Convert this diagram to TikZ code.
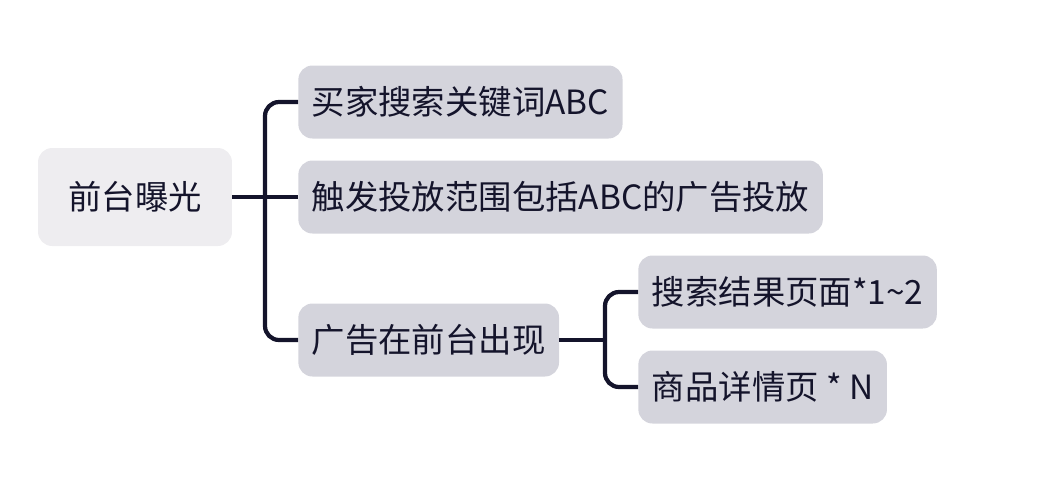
\documentclass[tikz,border=0pt]{standalone}
\usepackage{fontspec}
\newfontfamily\cjk{Noto Sans CJK SC}
\usetikzlibrary{positioning}
\definecolor{rootfill}{HTML}{EEEDF0}
\definecolor{topicfill}{HTML}{D4D4DC}
\definecolor{linecol}{HTML}{14142B}
\tikzset{every node/.style={font=\cjk\fontsize{19}{22}\selectfont, text=linecol},
  rootbox/.style={fill=rootfill, rounded corners=8pt, minimum width=3.88cm, minimum height=1.96cm},
  topicbox/.style={fill=topicfill, rounded corners=8pt, minimum height=1.46cm, inner xsep=0.27cm, anchor=west},
  conn/.style={draw=linecol, line width=2.4pt, rounded corners=8pt}}

\begin{document}
\begin{tikzpicture}[x=0.02cm,y=-0.02cm]
  \useasboundingbox (0,0) rectangle (1048,495);
  \node[rootbox] (root) at (135,197) {前台曝光};
  \node[topicbox] (kw) at (298,102) {买家搜索关键词ABC};
  \node[topicbox] (hit) at (298,197) {触发投放范围包括ABC的广告投放};
  \node[topicbox] (show) at (298,340) {广告在前台出现};
  \node[topicbox] (search) at (638,292) {搜索结果页面*1\textasciitilde2};
  \node[topicbox] (detail) at (638,387) {商品详情页 * N};
  \coordinate (fork) at (265,197);
  \coordinate (fork2) at (605,340);
  \draw[conn] (root.east) -- (fork);
  \draw[conn] (fork) |- (kw.west);
  \draw[conn] (fork) -- (hit.west);
  \draw[conn] (fork) |- (show.west);
  \draw[conn] (show.east) -- (fork2);
  \draw[conn] (fork2) |- (search.west);
  \draw[conn] (fork2) |- (detail.west);
\end{tikzpicture}
\end{document}
